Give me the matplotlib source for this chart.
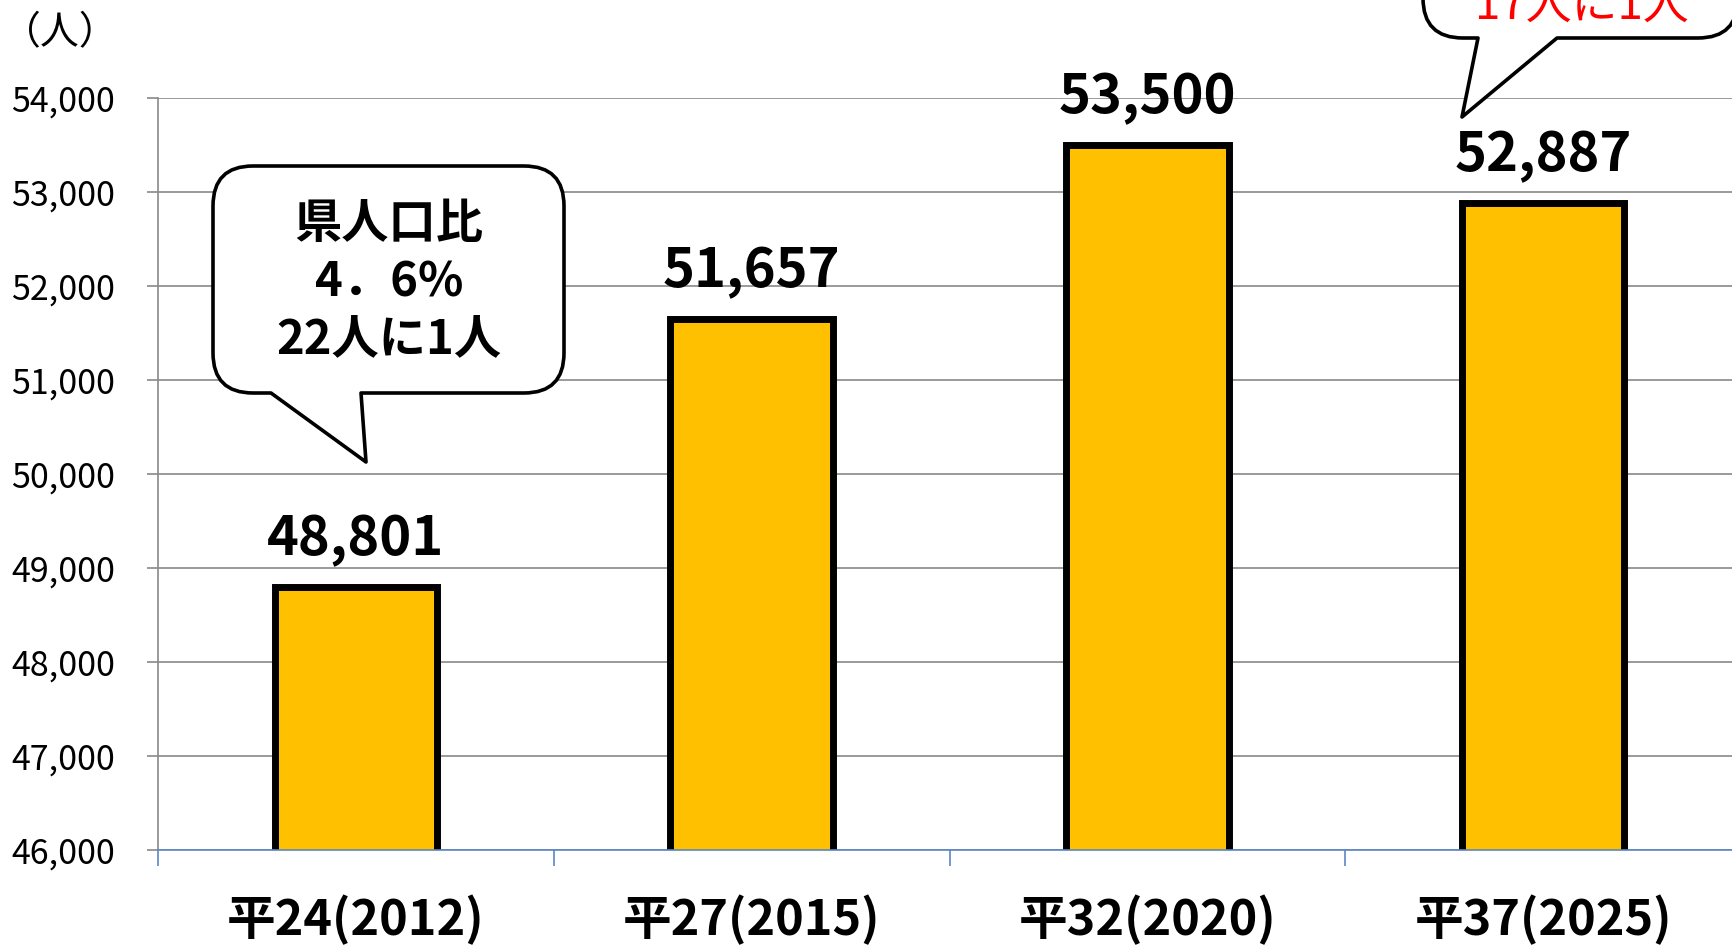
import numpy as np
import matplotlib.pyplot as plt
from matplotlib.path import Path
from matplotlib.patches import PathPatch

plt.rcParams['font.family'] = ['Noto Sans CJK JP', 'DejaVu Sans']

# データ
categories = ['平24(2012)', '平27(2015)', '平32(2020)', '平37(2025)']
values = [48801, 51657, 53500, 52887]
yticks = [46000, 47000, 48000, 49000, 50000, 51000, 52000, 53000, 54000]

W, H = 1733, 946
fig = plt.figure(figsize=(W / 100, H / 100), dpi=100)
ax = fig.add_axes([158 / W, 1 - 850 / H, (1741 - 158) / W, (850 - 98.4) / H])

x = np.arange(len(categories))
ax.bar(x, values, width=0.41, color='#FFC000', edgecolor='black', linewidth=5, zorder=3)
ax.set_xlim(-0.5, len(categories) - 0.5)
ax.set_ylim(46000, 54000)

# 目盛
ax.set_yticks(yticks)
ax.set_yticklabels([f'{v:,}' for v in yticks], fontsize=24.5)
ax.tick_params(axis='y', length=8, width=1.2, color='#898989', pad=23)
ax.grid(axis='y', color='#898989', linewidth=1.2, zorder=0)
ax.set_xticks(x)
ax.set_xticklabels(categories, fontsize=35, fontweight='bold')
ax.tick_params(axis='x', which='major', length=0, pad=32)
ax.set_xticks(np.arange(len(categories) + 1) - 0.5, minor=True)
ax.tick_params(axis='x', which='minor', length=11.5, width=1.2, color='#5B86C4')

for s in ['top', 'right']:
    ax.spines[s].set_visible(False)
ax.spines['left'].set_color('#898989')
ax.spines['left'].set_linewidth(1.2)
ax.spines['bottom'].set_color('#5B86C4')
ax.spines['bottom'].set_linewidth(1.2)
ax.spines['bottom'].set_zorder(4)

# 数値ラベル
for xi, v in zip(x, values):
    ax.annotate(f'{v:,}', (xi, v), xytext=(0, 34), textcoords='offset points',
                ha='center', va='center', fontsize=39, fontweight='bold')

fig.text(2 / W, 1 - 33 / H, '（人）', ha='left', va='center', fontsize=28)


# 吹き出し
def callout(x0, y0, x1, y1, r, tb1, tb2, tip):
    pts = [(x0 + r, y0), (x1 - r, y0), (x1, y0), (x1, y0 + r), (x1, y1 - r),
           (x1, y1), (x1 - r, y1), (tb2, y1), tip, (tb1, y1), (x0 + r, y1),
           (x0, y1), (x0, y1 - r), (x0, y0 + r), (x0, y0), (x0 + r, y0), (0, 0)]
    codes = [Path.MOVETO, Path.LINETO, Path.CURVE3, Path.CURVE3, Path.LINETO,
             Path.CURVE3, Path.CURVE3, Path.LINETO, Path.LINETO, Path.LINETO,
             Path.LINETO, Path.CURVE3, Path.CURVE3, Path.LINETO, Path.CURVE3,
             Path.CURVE3, Path.CLOSEPOLY]
    pts = [(px / W, 1 - py / H) for px, py in pts]
    patch = PathPatch(Path(pts, codes), facecolor='white', edgecolor='black',
                      linewidth=2.6, transform=fig.transFigure, zorder=5,
                      clip_on=False, joinstyle='round')
    fig.add_artist(patch)


callout(213, 166, 564, 393, 40, 271, 361, (366, 462))
for t, yy in zip(['県人口比', '4．6%', '22人に1人'], [224, 282, 339]):
    fig.text(389 / W, 1 - yy / H, t, ha='center', va='center', fontsize=34,
             fontweight='bold', zorder=6)

callout(1423, -200, 1738, 38, 40, 1478, 1557, (1462, 117))
fig.text(1582 / W, 1 - 6 / H, '17人に1人', ha='center', va='center', fontsize=33,
         color='#FF0000', zorder=6)

fig.savefig('out.png', dpi=100)
